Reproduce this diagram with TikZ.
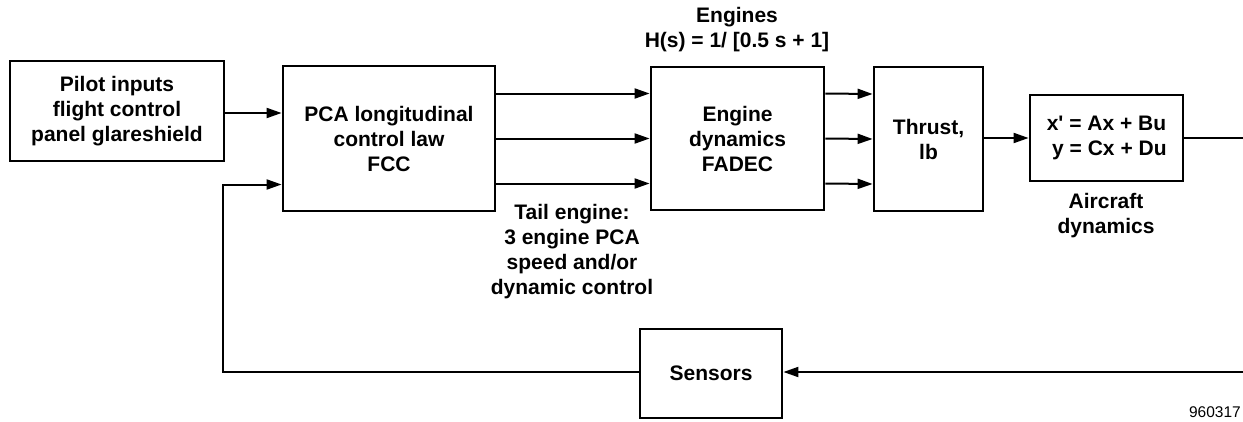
\documentclass[tikz,border=0pt]{standalone}
\usepackage{fontspec}
\setmainfont{Liberation Sans}
\usetikzlibrary{arrows.meta, positioning}

\begin{document}
\begin{tikzpicture}[
  x=1pt, y=-1pt,
  blk/.style={draw, line width=2.8pt, align=center, inner sep=1pt,
              font=\fontsize{21}{25}\selectfont\bfseries},
  lbl/.style={align=center, inner sep=1pt,
              font=\fontsize{21}{25}\selectfont\bfseries},
  arr/.style={-{Stealth[length=15pt, width=10pt, inset=0pt]}, line width=2pt},
  wire/.style={line width=2pt},
]
\useasboundingbox (0,0) rectangle (1243,421);

% --- Blocks ---
\node[blk, minimum width=214pt, minimum height=100pt] (pilot) at (117, 111)
  {Pilot inputs\\flight control\\panel glareshield};
\node[blk, minimum width=212pt, minimum height=145pt] (pca) at (389, 138.5)
  {PCA longitudinal\\control law\\FCC};
\node[blk, minimum width=173pt, minimum height=143pt] (eng) at (737.5, 138.5)
  {Engine\\dynamics\\FADEC};
\node[blk, minimum width=109pt, minimum height=144pt] (thrust) at (928.5, 139)
  {Thrust,\\lb};
\node[blk, minimum width=153pt, minimum height=86pt] (acdyn) at (1106.5, 138)
  {x\textquotesingle{} = Ax + Bu\\\ y = Cx + Du};
\node[blk, minimum width=142pt, minimum height=89pt] (sensors) at (711, 373.5)
  {Sensors};

% --- Labels ---
\node[lbl] (englbl) at (737, 30) {Engines\\H(s) = 1/ [0.5 s + 1]};
\node[lbl] (taillbl) at (572, 252)
  {Tail engine:\\3 engine PCA\\speed and/or\\dynamic control};
\node[lbl] (aclbl) at (1106, 216) {Aircraft\\dynamics};
\node[font=\fontsize{15.5}{17}\selectfont, anchor=east, inner sep=1pt] (figno)
  at (1242, 412) {960317};

% --- Edge points ---
\coordinate (outA) at (1243, 138);
\coordinate (inS) at (1243, 372);
\coordinate (fbx) at (223, 372);
\coordinate (pcain) at ([yshift=-46pt]pca.west);

% --- Forward path ---
\draw[arr] (pilot.east |- 0,113) -- (pca.west |- 0,113);
\foreach \dy in {45, 0, -45} {
  \draw[arr] ([yshift=\dy pt]pca.east) -- ([yshift=\dy pt]eng.west);
  \draw[arr] ([yshift=\dy pt]eng.east) -- ([yshift=\dy pt]thrust.west);
}
\draw[arr] (thrust.east |- acdyn) -- (acdyn.west);
\draw[wire] (acdyn.east) -- (outA);

% --- Feedback path ---
\draw[arr] (inS) -- (inS -| sensors.east);
\draw[arr] (sensors.west |- fbx) -- (fbx) |- (pcain);

\end{tikzpicture}
\end{document}
